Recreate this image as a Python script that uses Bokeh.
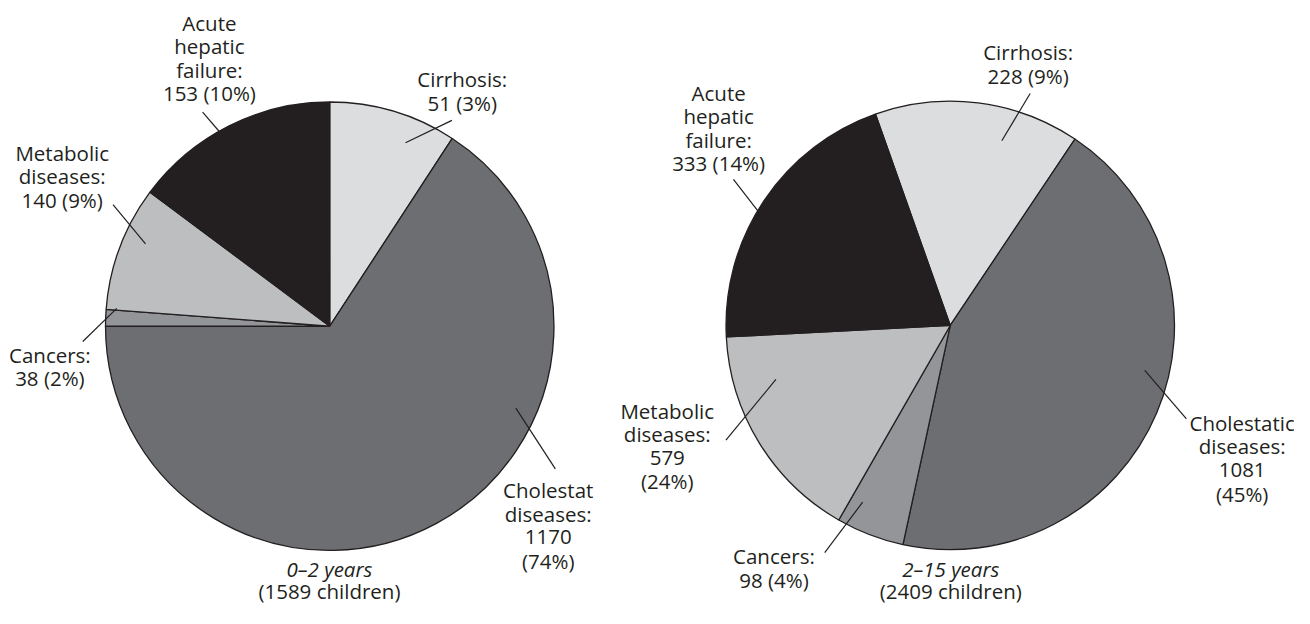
import numpy as np
from bokeh.plotting import figure
from bokeh.models import Range1d, ColumnDataSource
from bokeh.core.properties import value
from bokeh.embed import file_html
from bokeh.resources import INLINE

# ---------------- data ----------------
categories = ["Cirrhosis", "Cholestatic diseases", "Cancers", "Metabolic diseases", "Acute hepatic failure"]

# 0-2 years
counts_young = [51, 1170, 38, 140, 153]
pct_young = [3, 74, 2, 9, 10]
# share of the circle each slice occupies in the drawing (percent of 360 deg)
drawn_young = [9.2, 65.8, 1.2, 9.0, 14.8]
total_young = 1589
caption_young = "0\u20132 years"

# 2-15 years
counts_old = [228, 1081, 98, 579, 333]
pct_old = [9, 45, 4, 24, 14]
drawn_old = [14.8, 44.0, 4.9, 15.9, 20.4]
total_old = 2409
caption_old = "2\u201315 years"

colors = ["#dcdddf", "#6d6e71", "#939598", "#bcbec0", "#231f20"]

# label wording (line breaks as in the figure)
names_young = [["Cirrhosis:"], ["Cholestat", "diseases:"], ["Cancers:"],
               ["Metabolic", "diseases:"], ["Acute", "hepatic", "failure:"]]
names_old = [["Cirrhosis:"], ["Cholestatic", "diseases:"], ["Cancers:"],
             ["Metabolic", "diseases:"], ["Acute", "hepatic", "failure:"]]
split_count_young = [False, True, False, False, False]
split_count_old = [False, True, False, True, False]

# ---------------- layout (reference pixels, 1310 x 624 frame) ----------------
W, H = 1310, 624
INK = "#231f20"
FONT = value("Open Sans")
FS = "20.5px"
LH = 24.2
CAP_Y = 583.0

pies = [
    dict(cx=333.3, cy=334.3, r=227, start=90.0, counts=counts_young, pct=pct_young,
         drawn=drawn_young, names=names_young, split=split_count_young,
         caption=caption_young, total=total_young, cap_x=333,
         label_xy=[(467.5, 81.0), (554.5, 502.5), (50.0, 363.5), (62.5, 156.0), (211.5, 22.6)],
         leaders=[((457, 123), (410, 146)), ((521.7, 418.3), (561.7, 480.7)),
                  ((83.3, 350), (117.7, 316)), ((113.9, 209.5), (146.8, 249.7)),
                  ((204.6, 114.5), (222.8, 136))]),
    dict(cx=961.5, cy=333.5, r=227, start=109.5, counts=counts_old, pct=pct_old,
         drawn=drawn_old, names=names_old, split=split_count_old,
         caption=caption_old, total=total_old, cap_x=962,
         label_xy=[(1040.3, 53.0), (1257.0, 433.4), (783.0, 570.6), (675.0, 421.0), (727.0, 94.6)],
         leaders=[((1042.4, 95.4), (1013.7, 143.9)), ((1158.4, 379.7), (1200.6, 429.4)),
                  ((834.4, 566.6), (872.8, 514.9)), ((734.4, 451.3), (785, 388.9)),
                  ((742, 183.7), (767.3, 216.7))]),
]


def fy(s):
    # reference-picture y (from top) -> data y
    return H - s


p = figure(width=W - 16, height=H - 16, output_backend="svg", toolbar_location=None,
           x_range=Range1d(0, W), y_range=Range1d(0, H), min_border=0)
p.axis.visible = False
p.grid.visible = False
p.outline_line_color = None
p.background_fill_color = "white"
p.border_fill_color = "white"

for pie in pies:
    shares = np.array(pie["drawn"]) / 100.0
    cum = np.concatenate([[0], np.cumsum(shares)[:-1]])
    start = np.deg2rad(pie["start"] - cum * 360.0)
    end = np.deg2rad(pie["start"] - (cum + shares) * 360.0)
    src = ColumnDataSource(dict(x=[pie["cx"]] * len(shares), y=[fy(pie["cy"])] * len(shares),
                                start=start, end=end, color=colors))
    p.wedge(x="x", y="y", radius=pie["r"], start_angle="start", end_angle="end",
            direction="clock", fill_color="color", line_color=INK, line_width=1.3, source=src)

    # leader lines
    xs = [[a[0], b[0]] for a, b in pie["leaders"]]
    ys = [[fy(a[1]), fy(b[1])] for a, b in pie["leaders"]]
    p.multi_line(xs=xs, ys=ys, line_color=INK, line_width=1.2)

    # labels
    tx, ty, tt = [], [], []
    for i, (lx, ly) in enumerate(pie["label_xy"]):
        lines = list(pie["names"][i])
        if pie["split"][i]:
            lines += [f"{pie['counts'][i]}", f"({pie['pct'][i]}%)"]
        else:
            lines += [f"{pie['counts'][i]} ({pie['pct'][i]}%)"]
        for k, t in enumerate(lines):
            tx.append(lx)
            ty.append(fy(ly + k * LH))
            tt.append(t)
    p.text(x=tx, y=ty, text=tt, text_font=FONT, text_font_size=FS, text_align="center",
           text_baseline="middle", text_color=INK)

    # caption
    p.text(x=[pie["cap_x"]], y=[fy(CAP_Y)], text=[pie["caption"]], text_font=FONT,
           text_font_size=FS, text_font_style="italic", text_align="center",
           text_baseline="middle", text_color=INK)
    p.text(x=[pie["cap_x"]], y=[fy(CAP_Y + 23.0)], text=[f"({pie['total']} children)"],
           text_font=FONT, text_font_size=FS, text_align="center",
           text_baseline="middle", text_color=INK)

open("out.html", "w").write(file_html(p, INLINE))
